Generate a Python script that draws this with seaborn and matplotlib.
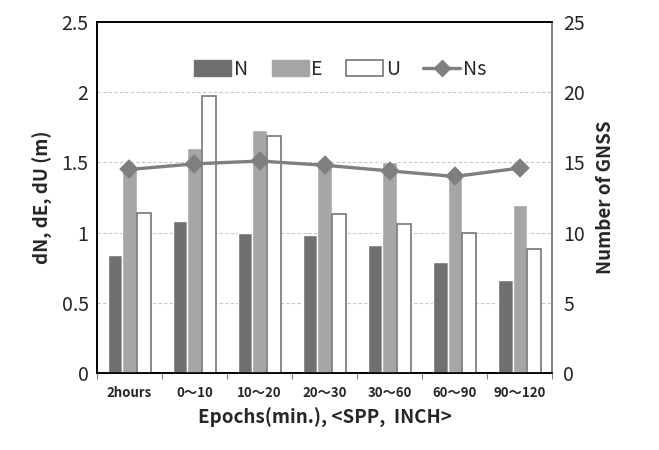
import matplotlib
matplotlib.use('Agg')
import matplotlib.pyplot as plt
import matplotlib.patches as mpatches
import matplotlib.lines as mlines
import pandas as pd
import seaborn as sns

categories = ['2hours', '0～10', '10～20', '20～30', '30～60', '60～90', '90～120']
dN = [0.84, 1.08, 1.00, 0.98, 0.91, 0.79, 0.66]
dE = [1.45, 1.60, 1.73, 1.50, 1.50, 1.40, 1.20]
dU = [1.14, 1.97, 1.69, 1.13, 1.06, 1.00, 0.88]
ns = [14.5, 14.9, 15.1, 14.8, 14.4, 14.0, 14.6]

sns.set_style('white')
plt.rcParams['font.family'] = ['Noto Sans CJK KR', 'DejaVu Sans']

df = pd.DataFrame({
    'epoch': categories * 3,
    'value': dN + dE + dU,
    'comp': ['N'] * 7 + ['E'] * 7 + ['U'] * 7,
})

colors = {'N': '#707070', 'E': '#a6a6a6', 'U': '#ffffff'}

fig = plt.figure(figsize=(6.59, 4.5), dpi=100)
ax = fig.add_axes([0.147, 0.171, 0.691, 0.78])

sns.barplot(data=df, x='epoch', y='value', hue='comp', palette=colors,
            width=0.66, gap=0, ax=ax, legend=False, zorder=3)
# U bars get a gray outline
for bar in ax.patches[14:21]:
    bar.set_edgecolor('#808080')
    bar.set_linewidth(1.3)

ax.set_ylim(0, 2.5)
ax.set_yticks([0, 0.5, 1, 1.5, 2, 2.5])
ax.set_yticklabels(['0', '0.5', '1', '1.5', '2', '2.5'], fontsize=14)
ax.set_xlim(-0.5, 6.5)
ax.set_xticks([i - 0.5 for i in range(8)], minor=True)
ax.yaxis.grid(True, linestyle=(0, (3, 2)), color='#c8c8c8', linewidth=0.8, zorder=0)
ax.set_axisbelow(True)
ax.set_ylabel('dN, dE, dU (m)', fontsize=13.5, fontweight='bold', labelpad=6)
ax.set_xlabel('Epochs(min.), <SPP,  INCH>', fontsize=13.5, fontweight='bold', labelpad=6)
for lbl in ax.get_xticklabels():
    lbl.set_fontsize(9.5)
    lbl.set_fontweight('bold')
ax.tick_params(axis='x', which='major', length=0, pad=9)
ax.tick_params(axis='x', which='minor', length=4, width=0.8, color='#808080', direction='out', bottom=True)
ax.tick_params(axis='y', length=0, pad=6)

ax2 = ax.twinx()
sns.pointplot(x=categories, y=ns, ax=ax2, color='#7f7f7f', markers='D',
              markersize=8, linewidth=2.4)
ax2.set_ylim(0, 25)
ax2.set_yticks([0, 5, 10, 15, 20, 25])
ax2.set_yticklabels(['0', '5', '10', '15', '20', '25'], fontsize=14)
ax2.set_ylabel('Number of GNSS', fontsize=13.5, fontweight='bold', labelpad=8)
ax2.tick_params(axis='y', length=0, pad=8)
ax2.set_xlim(-0.5, 6.5)

for a in (ax, ax2):
    for s in ('left', 'bottom', 'top'):
        a.spines[s].set_color('#000000')
        a.spines[s].set_linewidth(1.2)
    a.spines['right'].set_color('#808080')
    a.spines['right'].set_linewidth(1.2)

handles = [
    mpatches.Patch(facecolor='#707070', edgecolor='#707070', label='N'),
    mpatches.Patch(facecolor='#a6a6a6', edgecolor='#a6a6a6', label='E'),
    mpatches.Patch(facecolor='#ffffff', edgecolor='#808080', linewidth=1.3, label='U'),
    mlines.Line2D([], [], color='#7f7f7f', marker='D', markersize=8, linewidth=2.4, label='Ns'),
]
ax2.legend(handles=handles, loc='upper center', bbox_to_anchor=(0.535, 0.945), ncol=4,
           frameon=False, fontsize=14, handlelength=1.9, handleheight=0.85,
           handletextpad=0.15, columnspacing=1.2)

fig.savefig('out.png', dpi=100)
